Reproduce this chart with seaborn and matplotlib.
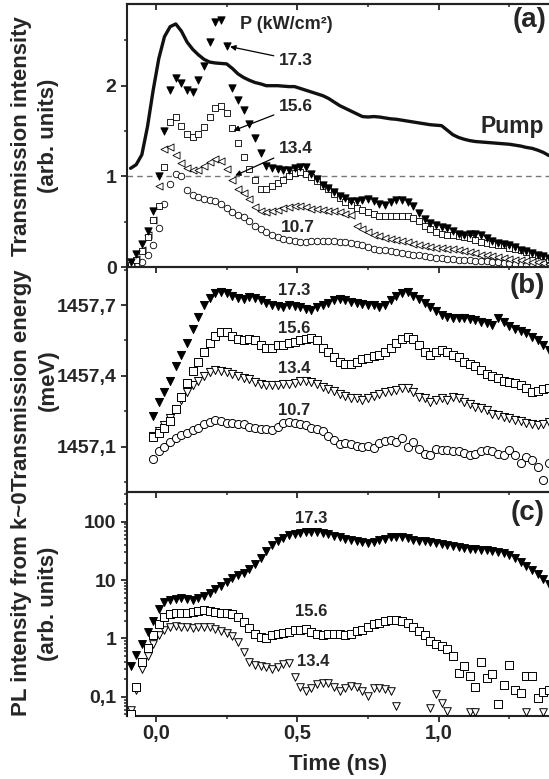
import numpy as np
import matplotlib
matplotlib.use("Agg")
import matplotlib.pyplot as plt
import seaborn as sns
from matplotlib.ticker import MultipleLocator, FuncFormatter, LogLocator, NullFormatter

nan = np.nan

# time axis (ns)
time_ns = [-0.09, -0.07, -0.05, -0.03, -0.01, 0.01, 0.03, 0.05, 0.07, 0.09,
           0.11, 0.13, 0.15, 0.17, 0.19, 0.21, 0.23, 0.25, 0.27, 0.29,
           0.31, 0.33, 0.35, 0.37, 0.39, 0.41, 0.43, 0.45, 0.47, 0.49,
           0.51, 0.53, 0.55, 0.57, 0.59, 0.61, 0.63, 0.65, 0.67, 0.69,
           0.71, 0.73, 0.75, 0.77, 0.79, 0.81, 0.83, 0.85, 0.87, 0.89,
           0.91, 0.93, 0.95, 0.97, 0.99, 1.01, 1.03, 1.05, 1.07, 1.09,
           1.11, 1.13, 1.15, 1.17, 1.19, 1.21, 1.23, 1.25, 1.27, 1.29,
           1.31, 1.33, 1.35, 1.37, 1.39]

# (a) transmission intensity
pump = [1.09, 1.13, 1.24, 1.55, 1.95, 2.30, 2.54, 2.65, 2.68, 2.60,
        2.48, 2.40, 2.34, 2.29, 2.26, 2.25, 2.245, 2.24, 2.19, 2.13,
        2.09, 2.06, 2.035, 2.02, 2.00, 2.00, 2.00, 1.995, 1.99, 1.99,
        1.97, 1.95, 1.93, 1.91, 1.89, 1.86, 1.82, 1.78, 1.75, 1.72,
        1.69, 1.66, 1.655, 1.66, 1.655, 1.645, 1.635, 1.63, 1.62, 1.61,
        1.60, 1.59, 1.58, 1.57, 1.565, 1.56, 1.51, 1.46, 1.43, 1.41,
        1.395, 1.385, 1.38, 1.375, 1.37, 1.365, 1.36, 1.355, 1.345, 1.335,
        1.32, 1.31, 1.29, 1.265, 1.23]
int_173 = [0.06, 0.15, 0.26, 0.40, 0.62, 1.00, 1.50, 1.95, 2.08, 2.03,
           1.95, 1.93, 2.06, 2.22, 2.48, 2.70, 2.72, 2.44, 1.98, 1.84,
           1.73, 1.58, 1.42, 1.26, 1.12, 1.09, 1.08, 1.07, 1.07, 1.09,
           1.10, 1.10, 1.03, 0.97, 0.91, 0.87, 0.83, 0.79, 0.76, 0.73,
           0.73, 0.745, 0.75, 0.73, 0.70, 0.69, 0.72, 0.74, 0.74, 0.72,
           0.67, 0.60, 0.53, 0.49, 0.465, 0.44, 0.43, 0.40, 0.37, 0.36,
           0.37, 0.37, 0.35, 0.32, 0.29, 0.27, 0.26, 0.25, 0.22, 0.195,
           0.175, 0.16, 0.14, 0.12, 0.10]
int_156 = [0.02, 0.08, 0.18, 0.33, 0.52, 0.68, 1.10, 1.60, 1.66, 1.56,
           1.47, 1.44, 1.47, 1.55, 1.65, 1.75, 1.78, 1.70, 1.53, 1.37,
           1.22, 1.08, 0.96, 0.86, 0.86, 0.89, 0.93, 0.96, 1.00, 1.04,
           1.05, 1.03, 0.99, 0.95, 0.90, 0.86, 0.81, 0.76, 0.72, 0.685,
           0.655, 0.63, 0.61, 0.59, 0.57, 0.565, 0.565, 0.57, 0.57, 0.57,
           0.545, 0.505, 0.46, 0.42, 0.39, 0.37, 0.36, 0.35, 0.34, 0.33,
           0.32, 0.30, 0.28, 0.27, 0.26, 0.25, 0.24, 0.21, 0.20, 0.19,
           0.17, 0.15, 0.14, 0.12, 0.095]
int_134 = [0.03, 0.09, 0.19, 0.36, 0.52, 0.90, 1.30, 1.32, 1.24, 1.15,
           1.09, 1.07, 1.075, 1.11, 1.16, 1.19, 1.17, 1.08, 0.96, 0.86,
           0.82, 0.75, 0.66, 0.62, 0.61, 0.62, 0.635, 0.65, 0.665, 0.67,
           0.68, 0.665, 0.645, 0.64, 0.63, 0.625, 0.615, 0.605, 0.59, 0.575,
           0.46, 0.42, 0.39, 0.36, 0.34, 0.325, 0.31, 0.30, 0.285, 0.275,
           0.26, 0.245, 0.235, 0.225, 0.215, 0.21, 0.205, 0.20, 0.185, 0.175,
           0.165, 0.155, 0.14, 0.13, 0.125, 0.11, 0.10, 0.095, 0.085, 0.075,
           0.07, 0.06, 0.055, 0.05, 0.04]
int_107 = [0.01, 0.02, 0.06, 0.14, 0.24, 0.43, 0.70, 0.92, 1.03, 1.00,
           0.85, 0.80, 0.77, 0.75, 0.74, 0.725, 0.70, 0.65, 0.61, 0.58,
           0.55, 0.51, 0.46, 0.42, 0.39, 0.36, 0.335, 0.31, 0.295, 0.285,
           0.28, 0.28, 0.285, 0.29, 0.29, 0.29, 0.285, 0.28, 0.275, 0.27,
           0.255, 0.24, 0.22, 0.205, 0.195, 0.185, 0.175, 0.165, 0.16, 0.15,
           0.14, 0.135, 0.125, 0.115, 0.105, 0.10, 0.095, 0.09, 0.085, 0.08,
           0.075, 0.07, 0.07, 0.065, 0.06, 0.055, 0.05, 0.045, 0.04, 0.035,
           0.035, 0.03, 0.03, 0.025, 0.02]

# (b) transmission energy (meV)
en_173 = [nan, nan, nan, nan, 1457.23, 1457.29, 1457.33, 1457.38, 1457.44, 1457.49,
          1457.54, 1457.60, 1457.65, 1457.70, 1457.73, 1457.75, 1457.755, 1457.75, 1457.74, 1457.73,
          1457.725, 1457.735, 1457.73, 1457.72, 1457.71, 1457.70, 1457.695, 1457.69, 1457.70, 1457.695,
          1457.69, 1457.685, 1457.68, 1457.69, 1457.70, 1457.71, 1457.72, 1457.725, 1457.72, 1457.715,
          1457.71, 1457.705, 1457.70, 1457.70, 1457.69, 1457.70, 1457.72, 1457.74, 1457.75, 1457.755,
          1457.74, 1457.725, 1457.71, 1457.69, 1457.675, 1457.66, 1457.65, 1457.645, 1457.645, 1457.645,
          1457.64, 1457.635, 1457.63, 1457.625, 1457.615, 1457.645, 1457.63, 1457.61, 1457.60, 1457.59,
          1457.58, 1457.565, 1457.55, 1457.53, 1457.51]
en_156 = [nan, nan, nan, nan, 1457.14, 1457.16, 1457.18, 1457.21, 1457.26, 1457.31,
          1457.37, 1457.42, 1457.46, 1457.50, 1457.54, 1457.57, 1457.585, 1457.585, 1457.57, 1457.555,
          1457.55, 1457.555, 1457.55, 1457.53, 1457.52, 1457.52, 1457.53, 1457.53, 1457.54, 1457.545,
          1457.55, 1457.555, 1457.56, 1457.55, 1457.52, 1457.50, 1457.48, 1457.46, 1457.45, 1457.45,
          1457.46, 1457.47, 1457.475, 1457.485, 1457.49, 1457.50, 1457.52, 1457.54, 1457.555, 1457.565,
          1457.555, 1457.53, 1457.50, 1457.49, 1457.50, 1457.51, 1457.50, 1457.49, 1457.48, 1457.46,
          1457.45, 1457.44, 1457.425, 1457.41, 1457.40, 1457.39, 1457.38, 1457.375, 1457.37, 1457.36,
          1457.35, 1457.33, 1457.335, 1457.345, 1457.35]
en_134 = [nan, nan, nan, nan, 1457.145, 1457.165, 1457.19, 1457.22, 1457.26, 1457.30,
          1457.33, 1457.36, 1457.38, 1457.40, 1457.415, 1457.425, 1457.42, 1457.415, 1457.41, 1457.40,
          1457.39, 1457.385, 1457.375, 1457.365, 1457.36, 1457.36, 1457.36, 1457.365, 1457.367, 1457.37,
          1457.378, 1457.38, 1457.375, 1457.365, 1457.355, 1457.345, 1457.335, 1457.325, 1457.315, 1457.308,
          1457.305, 1457.30, 1457.305, 1457.315, 1457.325, 1457.33, 1457.335, 1457.34, 1457.35, 1457.35,
          1457.33, 1457.31, 1457.305, 1457.29, 1457.30, 1457.305, 1457.30, 1457.31, 1457.305, 1457.29,
          1457.28, 1457.27, 1457.265, 1457.255, 1457.24, 1457.235, 1457.228, 1457.222, 1457.215, 1457.21,
          1457.20, 1457.195, 1457.19, 1457.195, 1457.205]
en_107 = [nan, nan, nan, nan, 1457.05, 1457.08, 1457.10, 1457.12, 1457.135, 1457.15,
          1457.16, 1457.17, 1457.18, 1457.195, 1457.205, 1457.215, 1457.21, 1457.20, 1457.20, 1457.195,
          1457.195, 1457.185, 1457.18, 1457.175, 1457.175, 1457.17, 1457.185, 1457.20, 1457.205, 1457.20,
          1457.195, 1457.19, 1457.18, 1457.175, 1457.165, 1457.145, 1457.13, 1457.11, 1457.115, 1457.11,
          1457.105, 1457.10, 1457.105, 1457.095, 1457.115, 1457.125, 1457.13, 1457.12, 1457.135, 1457.10,
          1457.12, 1457.09, 1457.07, 1457.065, 1457.09, 1457.085, 1457.085, 1457.08, 1457.08, 1457.075,
          1457.065, 1457.07, 1457.08, 1457.085, 1457.08, 1457.07, 1457.065, 1457.085, 1457.065, 1457.03,
          1457.055, 1457.045, 1457.015, 1456.96, 1457.03]

# (c) PL intensity from k~0
pl_173 = [0.34, 0.53, 0.82, 1.30, 2.0, 3.2, 4.2, 4.6, 4.8, 4.85,
          4.8, 4.6, 5.0, 5.4, 6.1, 7.0, 8.0, 9.4, 10.8, 12.1,
          13.5, 15.8, 19.0, 24, 32, 40, 47, 53, 59, 63,
          65, 66.5, 66.5, 65.8, 64, 61.5, 58, 54.5, 51, 48.5,
          46, 44.5, 43.6, 45, 48, 51.5, 54, 55.3, 54.5, 52,
          49, 47, 46, 44.5, 43, 41.5, 40, 38, 36.3, 35.5,
          34.7, 34, 33.3, 32.8, 31.8, 30.6, 29, 26.5, 23.5, 20.8,
          17.8, 15, 12.5, 10.3, 8.5]
pl_156 = [0.05, 0.15, 0.40, 0.70, 1.15, 1.75, 2.3, 2.6, 2.7, 2.75,
          2.75, 2.85, 3.0, 3.1, 2.95, 2.85, 2.75, 2.7, 2.6, 2.35,
          1.9, 1.5, 1.2, 1.05, 1.02, 1.14, 1.2, 1.22, 1.3, 1.38,
          1.4, 1.45, 1.3, 1.2, 1.15, 1.2, 1.2, 1.18, 1.15, 1.2,
          1.35, 1.42, 1.55, 1.75, 1.85, 2.0, 2.1, 2.08, 2.0, 1.85,
          1.6, 1.35, 1.15, 0.9, 0.82, 0.75, 0.65, 0.5, 0.26, 0.34,
          0.23, 0.15, 0.40, 0.21, 0.25, 0.075, 0.16, 0.35, 0.13, 0.115,
          0.23, 0.23, 0.094, 0.12, 0.13]
pl_134 = [0.06, 0.13, 0.30, 0.50, 0.80, 1.15, 1.42, 1.6, 1.63, 1.6,
          1.56, 1.53, 1.55, 1.58, 1.57, 1.47, 1.32, 1.22, 1.1, 0.87,
          0.58, 0.39, 0.35, 0.335, 0.32, 0.3, 0.33, 0.37, 0.38, 0.22,
          0.145, 0.125, 0.14, 0.165, 0.17, 0.17, 0.15, 0.125, 0.14, 0.155,
          0.15, 0.125, 0.105, 0.14, 0.14, 0.135, 0.125, 0.07, nan, nan,
          nan, nan, nan, 0.065, 0.112, 0.08, 0.057, nan, nan, nan,
          0.056, 0.056, nan, nan, nan, nan, nan, nan, nan, nan,
          0.056, nan, nan, 0.054, nan]

# 样式设置
sns.set_style("ticks")
plt.rcParams["font.family"] = ["Liberation Sans", "DejaVu Sans"]
plt.rcParams["font.weight"] = "bold"
plt.rcParams["axes.labelweight"] = "bold"
plt.rcParams["axes.linewidth"] = 1.5
plt.rcParams["axes.edgecolor"] = "#222222"

fig = plt.figure(figsize=(5.49, 7.79), dpi=100)
ax_a = fig.add_axes([0.2313, 0.6569, 0.7687, 0.3380])
ax_b = fig.add_axes([0.2313, 0.3680, 0.7687, 0.2889])
ax_c = fig.add_axes([0.2313, 0.0809, 0.7687, 0.2871])


def points(ax, y, marker, fill, size, lw=0.7):
    sns.scatterplot(x=time_ns, y=y, marker=marker, s=size, color=fill,
                    edgecolor="black", linewidth=lw, ax=ax, legend=False, zorder=3)


def comma(v, pos):
    return f"{v:.1f}".replace(".", ",")


def log_label(v, pos):
    if v >= 1:
        return f"{v:.0f}"
    return f"{v:g}".replace(".", ",")


# (a) 透射强度
points(ax_a, int_107, "o", "white", 22, 0.6)
points(ax_a, int_134, "<", "white", 26, 0.6)
points(ax_a, int_156, "s", "white", 22, 0.6)
points(ax_a, int_173, "v", "black", 28, 0.6)
sns.lineplot(x=time_ns, y=pump, color="#111111", linewidth=2.4, estimator=None,
             ax=ax_a, zorder=4)
ax_a.axhline(1.0, color="#777777", lw=1.0, ls=(0, (4, 3)), zorder=1)
ax_a.set_ylim(0, 2.9)
ax_a.yaxis.set_major_locator(MultipleLocator(1))
ax_a.yaxis.set_minor_locator(MultipleLocator(0.5))
ax_a.yaxis.set_major_formatter(FuncFormatter(lambda v, p: f"{v:.0f}"))
ax_a.set_ylabel("Transmission intensity\n(arb. units)", fontsize=16, linespacing=1.35)

ax_a.text(0.297, 2.67, "P (kW/cm²)", fontsize=13, fontweight="bold", va="center")
ax_a.text(1.382, 2.72, "(a)", fontsize=20, fontweight="bold", ha="right", va="center")
ax_a.text(1.146, 1.55, "Pump", fontsize=16.5, fontweight="bold", va="center")
ax_a.text(0.44, 0.44, "10.7", fontsize=12.5, fontweight="bold", va="center")
for lab, txt_y, tip in [("17.3", 2.28, (0.262, 2.43)),
                        ("15.6", 1.77, (0.274, 1.505)),
                        ("13.4", 1.31, (0.28, 1.01))]:
    ax_a.annotate(lab, xy=tip, xytext=(0.433, txt_y), fontsize=12.5, fontweight="bold",
                  va="center", ha="left",
                  arrowprops=dict(arrowstyle="-|>", color="black", lw=0.9,
                                  mutation_scale=8, shrinkA=1, shrinkB=0))

# (b) 透射能量
points(ax_b, en_107, "o", "white", 34, 0.7)
points(ax_b, en_134, "v", "white", 34, 0.7)
points(ax_b, en_156, "s", "white", 30, 0.7)
points(ax_b, en_173, "v", "black", 34, 0.7)
ax_b.set_ylim(1456.907, 1457.86)
ax_b.yaxis.set_major_locator(MultipleLocator(0.3))
ax_b.yaxis.set_minor_locator(MultipleLocator(0.15))
ax_b.yaxis.set_major_formatter(FuncFormatter(comma))
ax_b.set_ylabel("Transmission energy\n(meV)", fontsize=16, linespacing=1.35)
for lab, yv in [("17.3", 1457.76), ("15.6", 1457.60), ("13.4", 1457.43), ("10.7", 1457.255)]:
    ax_b.text(0.488, yv, lab, fontsize=12, fontweight="bold", ha="center", va="center")
ax_b.text(1.376, 1457.78, "(b)", fontsize=20, fontweight="bold", ha="right", va="center")

# (c) PL 强度
points(ax_c, pl_134, "v", "white", 30, 0.7)
points(ax_c, pl_156, "s", "white", 30, 0.7)
points(ax_c, pl_173, "v", "black", 32, 0.7)
ax_c.set_yscale("log")
ax_c.set_ylim(0.047, 320)
ax_c.yaxis.set_major_locator(LogLocator(base=10))
ax_c.yaxis.set_minor_locator(LogLocator(base=10, subs=np.arange(2, 10)))
ax_c.yaxis.set_major_formatter(FuncFormatter(log_label))
ax_c.yaxis.set_minor_formatter(NullFormatter())
ax_c.set_ylabel("PL intensity from k~0\n(arb. units)", fontsize=16, linespacing=1.35)
ax_c.text(0.548, 114, "17.3", fontsize=12, fontweight="bold", ha="center", va="center")
ax_c.text(0.548, 2.87, "15.6", fontsize=12, fontweight="bold", ha="center", va="center")
ax_c.text(0.50, 0.40, "13.4", fontsize=12, fontweight="bold", ha="left", va="center")
ax_c.text(1.376, 139, "(c)", fontsize=20, fontweight="bold", ha="right", va="center")
ax_c.set_xlabel("Time (ns)", fontsize=16, labelpad=8)

# 公共坐标轴设置
for ax in (ax_a, ax_b, ax_c):
    ax.patch.set_alpha(0)
    ax.set_xlim(-0.1026, 1.390)
    ax.xaxis.set_major_locator(MultipleLocator(0.5))
    ax.xaxis.set_minor_locator(MultipleLocator(0.25))
    ax.xaxis.set_major_formatter(FuncFormatter(comma))
    ax.spines["right"].set_visible(False)
    ax.tick_params(axis="both", which="major", direction="out", length=4.5, width=1.3,
                   labelsize=14, pad=3, right=False, top=False)
    ax.tick_params(axis="both", which="minor", direction="out", length=2.5, width=1.1,
                   right=False, top=False)
    ax.yaxis.set_label_coords(-0.218, 0.5)
    ax.yaxis.label.set_va("center")
    for lbl in ax.get_xticklabels() + ax.get_yticklabels():
        lbl.set_fontweight("bold")

ax_a.tick_params(axis="x", labelbottom=False)
ax_b.tick_params(axis="x", labelbottom=False)
ax_c.tick_params(axis="x", which="major", pad=1.5, labelsize=14.5)

# 顶部刻度朝内
top = ax_a.secondary_xaxis("top")
top.xaxis.set_major_locator(MultipleLocator(0.5))
top.xaxis.set_minor_locator(MultipleLocator(0.25))
top.tick_params(axis="x", which="major", direction="in", length=4.5, width=1.3, labeltop=False)
top.tick_params(axis="x", which="minor", direction="in", length=2.5, width=1.1)
top.spines["top"].set_linewidth(1.5)

fig.savefig("out.png", dpi=100)
